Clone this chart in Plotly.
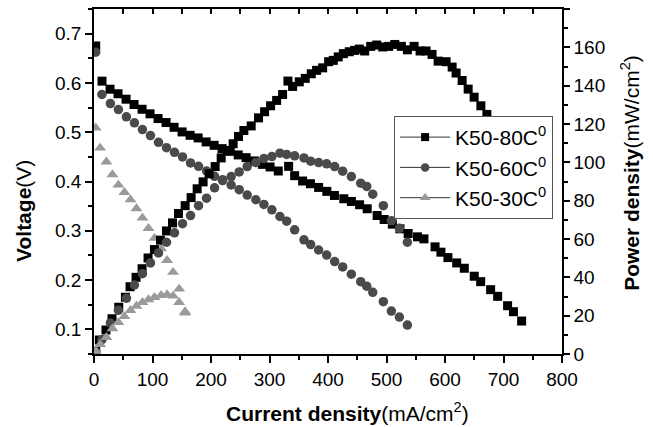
import plotly.graph_objects as go

# ---- K50 at 80 C ----
i80_v = [2.9, 13.7, 27.4, 41.1, 54.8, 68.5, 82.2, 95.8, 109.5, 123.2, 136.9, 150.6, 164.3, 178,
         191.7, 205.4, 219, 232.8, 246.5, 260, 274, 288, 301, 315, 332.7, 343, 356.6, 370, 384,
         398, 411, 427, 440, 454, 467, 484, 496, 510, 523, 537, 553, 564, 583, 593, 605, 620,
         633, 650, 661, 678, 690, 707, 717, 731]
volt80 = [0.675, 0.6036, 0.5873, 0.578, 0.567, 0.5562, 0.5466, 0.5373, 0.5277, 0.5196, 0.51,
          0.5006, 0.4937, 0.4884, 0.4803, 0.4734, 0.4667, 0.4612, 0.4539, 0.4484, 0.4417, 0.4348,
          0.4295, 0.4213, 0.4307, 0.4118, 0.401, 0.3955, 0.388, 0.38, 0.3717, 0.365, 0.3595,
          0.3528, 0.3447, 0.331, 0.3229, 0.3135, 0.304, 0.2945, 0.2877, 0.2836, 0.2674, 0.2566,
          0.2456, 0.2348, 0.224, 0.2078, 0.1968, 0.1805, 0.167, 0.148, 0.1358, 0.1169]

i80_p = [2.9, 9.2, 20.5, 30.8, 42.3, 53.7, 61.6, 71.9, 82.2, 92.4, 103.3, 113.6, 123.9, 134.2,
         144.4, 155.8, 166, 176.3, 186.5, 196.8, 207.1, 217.4, 227.6, 237.9, 247, 256.2, 268.7,
         281.3, 291.6, 301.9, 312.2, 322.4, 331.5, 339.5, 350.9, 361.1, 371.4, 380.5, 390.9,
         401.1, 409, 417.5, 426.2, 436.4, 445.6, 453.5, 462.7, 473, 483.3, 493.6, 503.8, 514.1,
         525.4, 535.7, 547.2, 557.4, 567.7, 577.9, 588.2, 601.9, 612.2, 619, 629.3, 639.6,
         649.8, 661.3, 671.6, 682, 695, 707, 718, 730]
pow80 = [1.5, 7.3, 12.5, 18.4, 24.4, 29.6, 35.1, 40, 44.5, 50.1, 54.5, 59.4, 64.2, 68.4, 73.3,
         77.4, 81.6, 86.2, 89.8, 94, 97.8, 102.3, 106.2, 109.7, 113.5, 116.6, 119, 123.2, 126.4,
         129.5, 132.3, 135.4, 142.4, 139.6, 142, 143.8, 146.2, 148, 149.3, 152.5, 153.2, 155,
         156.7, 157.7, 158.4, 159.1, 158.1, 160.5, 161.2, 160.2, 160.5, 161.5, 160.5, 158.7,
         160.5, 158.1, 158.1, 156.3, 152.8, 152.5, 149.7, 146.6, 142.7, 138.2, 134, 129.5, 125,
         119, 111, 104, 97, 85]

# ---- K50 at 60 C ----
i60 = [2.9, 13.5, 28, 41.7, 55.4, 69.1, 82.8, 96.5, 110.2, 123.9, 137.6, 151.3, 165, 178.7,
       192.4, 206.1, 219.8, 234.5, 248.2, 261.9, 276.7, 290.4, 304.1, 317.8, 329.3, 343, 358.9,
       370.4, 384, 397.7, 411.4, 425.1, 439.9, 455.9, 466.2, 476.5, 494.6, 508.3, 522, 535.7]
volt60 = [0.6625, 0.5765, 0.5582, 0.546, 0.5312, 0.519, 0.5053, 0.4931, 0.4795, 0.4687, 0.4592,
          0.4498, 0.4376, 0.4307, 0.4213, 0.4104, 0.4036, 0.3929, 0.3833, 0.3725, 0.363, 0.3534,
          0.3426, 0.329, 0.3196, 0.302, 0.2816, 0.272, 0.261, 0.2508, 0.2375, 0.2267, 0.2119,
          0.1968, 0.1875, 0.1752, 0.1561, 0.1372, 0.125, 0.1087]
pow60 = [1.3, 7.5, 16.2, 22.8, 29.1, 36, 41.9, 47.5, 52.7, 58.3, 63.2, 68, 72.2, 77.4, 81.3,
         86.7, 90.5, 92.6, 95, 97.8, 99.9, 102, 103, 104.8, 104.1, 103.4, 102.3, 100.6, 99.9,
         99.2, 97.8, 95.4, 92.6, 89.1, 87.4, 83.4, 77.4, 69.5, 65.6, 58.3]

# ---- K50 at 30 C ----
i30 = [2.9, 10.5, 21.2, 31.5, 41.7, 52, 62.3, 72.6, 82.8, 93.1, 103.4, 114.7, 124.9, 135.2,
       145.5, 155.7]
volt30 = [0.509, 0.468, 0.44, 0.414, 0.393, 0.378, 0.363, 0.345, 0.326, 0.305, 0.285, 0.264,
          0.24, 0.216, 0.182, 0.136]
pow30 = [1.5, 5.0, 8.7, 13.2, 16.5, 19.6, 22.8, 25.0, 27.0, 28.4, 29.6, 30.6, 31.0, 30.3, 27.0,
         21.5]

series = [
    ("K50-80C<sup>0</sup>", "#000000", "square", 9, i80_v, volt80, i80_p, pow80),
    ("K50-60C<sup>0</sup>", "#4a4a4a", "circle", 9.5, i60, volt60, i60, pow60),
    ("K50-30C<sup>0</sup>", "#9a9a9a", "triangle-up", 10.5, i30, volt30, i30, pow30),
]

FONT = "Liberation Sans, Arial, sans-serif"

fig = go.Figure()
for name, color, symbol, size, xv, yv, xp, yp in series:
    marker = dict(symbol=symbol, size=size, color=color, line=dict(width=0))
    fig.add_trace(go.Scatter(x=xv, y=yv, name=name, yaxis="y", mode="markers",
                             marker=marker, legendgroup=name, showlegend=False))
    fig.add_trace(go.Scatter(x=xp, y=yp, name=name, yaxis="y2", mode="markers",
                             marker=marker, legendgroup=name, showlegend=False))
    # legend key: line with the series symbol
    fig.add_trace(go.Scatter(x=[None], y=[None], name=name, mode="lines+markers",
                             line=dict(color="#333333", width=1),
                             marker=dict(symbol=symbol, size=size - 1, color=color),
                             legendgroup=name, showlegend=True))

# invisible trace carrying the top axis ticks
fig.add_trace(go.Scatter(x=[0, 800], y=[0.05, 0.05], xaxis="x2", mode="markers",
                         marker=dict(opacity=0), showlegend=False, hoverinfo="skip"))

axis_common = dict(showline=True, linecolor="black", linewidth=1.5, showgrid=False,
                   zeroline=False, tickcolor="black", tickwidth=1.5,
                   tickfont=dict(family=FONT, size=19, color="black"))

fig.update_layout(
    width=653, height=427,
    margin=dict(l=94, r=91, t=9, b=73),
    paper_bgcolor="white", plot_bgcolor="white",
    font=dict(family=FONT, color="black"),
    xaxis=dict(range=[0, 800], tickvals=[0, 100, 200, 300, 400, 500, 600, 700, 800],
               ticks="outside", ticklen=7,
               minor=dict(ticks="outside", ticklen=4, dtick=50, tickcolor="black", tickwidth=1.5),
               **axis_common),
    xaxis2=dict(range=[0, 800], overlaying="x", side="top", anchor="y", dtick=50,
                ticks="inside", ticklen=5, showticklabels=False, showline=True,
                linecolor="black", linewidth=1.5, showgrid=False, zeroline=False,
                tickcolor="black", tickwidth=1.5),
    yaxis=dict(range=[0.05, 0.75], tickvals=[0.1, 0.2, 0.3, 0.4, 0.5, 0.6, 0.7],
               ticktext=["0.1", "0.2", "0.3", "0.4", "0.5", "0.6", "0.7"],
               ticks="outside", ticklen=7,
               minor=dict(ticks="outside", ticklen=4, dtick=0.05, tick0=0.05,
                          tickcolor="black", tickwidth=1.5),
               **axis_common),
    yaxis2=dict(range=[0, 180], overlaying="y", side="right", anchor="x", dtick=20,
                ticks="outside", ticklen=6,
                minor=dict(ticks="outside", ticklen=4, dtick=10, tickcolor="black", tickwidth=1.5),
                **axis_common),
    legend=dict(x=0.981, xanchor="right", y=0.69, yanchor="top",
                bgcolor="white", bordercolor="#555555", borderwidth=1,
                font=dict(family=FONT, size=21, color="black"),
                itemwidth=50, traceorder="normal", tracegroupgap=1),
    showlegend=True,
    annotations=[
        dict(text="<b>Voltage</b>(V)", xref="paper", yref="paper", x=-0.1496, y=0.4145,
             xanchor="center", yanchor="middle", textangle=-90, showarrow=False,
             font=dict(family=FONT, size=21, color="black")),
        dict(text="<b>Power density</b>(mW/cm<sup>2</sup>)", xref="paper", yref="paper",
             x=1.145, y=0.5246, xanchor="center", yanchor="middle", textangle=-90,
             showarrow=False, font=dict(family=FONT, size=21, color="black")),
        dict(text="<b>Current density</b>(mA/cm<sup>2</sup>)", xref="paper", yref="paper",
             x=0.5406, y=-0.168, xanchor="center", yanchor="middle", showarrow=False,
             font=dict(family=FONT, size=21, color="black")),
    ],
)

fig.write_html("out.html")
